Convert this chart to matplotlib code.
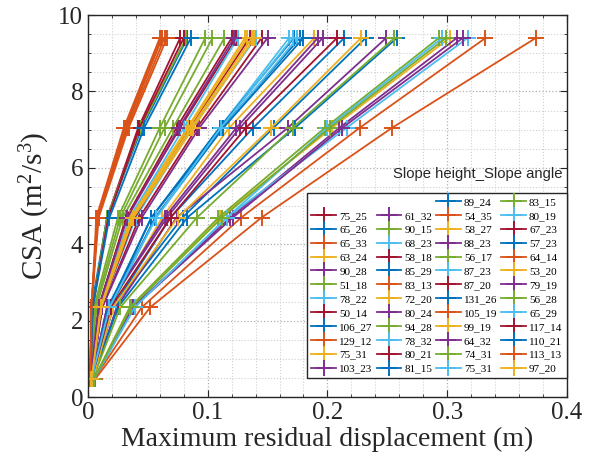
import matplotlib
matplotlib.use("Agg")
import matplotlib.pyplot as plt
from matplotlib.lines import Line2D
from matplotlib.ticker import FuncFormatter, MultipleLocator

plt.rcParams["font.family"] = ["Liberation Serif", "DejaVu Serif"]
plt.rcParams["mathtext.fontset"] = "custom"
plt.rcParams["mathtext.rm"] = "Liberation Serif"
plt.rcParams["mathtext.it"] = "Liberation Serif:italic"

# CSA levels (m^2/s^3)
csa = [0.47, 2.35, 4.7, 7.05, 9.4]

# slope cases, in legend order (height_angle)
labels = [
    "75_25", "65_26", "65_33", "63_24", "90_28", "51_18", "78_22", "50_14", "106_27", "129_12", "75_31", "103_23",
    "61_32", "90_15", "68_23", "58_18", "85_29", "83_13", "72_20", "80_24", "94_28", "78_32", "80_21", "81_15",
    "89_24", "54_35", "58_27", "88_23", "56_17", "87_23", "87_20", "131_26", "105_19", "99_19", "64_32", "74_31", "75_31",
    "83_15", "80_19", "67_23", "57_23", "64_14", "53_20", "79_19", "56_28", "65_29", "117_14", "110_21", "113_13", "97_20",
]

# maximum residual displacement (m) at each CSA level
disp_csa1 = [0.003, 0.004, 0.005, 0.003, 0.004, 0.002, 0.003, 0.002, 0.004, 0.002, 0.005, 0.003,
             0.005, 0.002, 0.003, 0.002, 0.004, 0.002, 0.003, 0.003, 0.004, 0.005, 0.002, 0.002,
             0.003, 0.006, 0.004, 0.003, 0.002, 0.003, 0.003, 0.003, 0.002, 0.003, 0.005, 0.005, 0.005,
             0.002, 0.003, 0.003, 0.003, 0.002, 0.003, 0.002, 0.005, 0.003, 0.002, 0.002, 0.002, 0.003]
disp_csa2 = [0.012, 0.021, 0.045, 0.018, 0.024, 0.006, 0.016, 0.004, 0.025, 0.003, 0.035, 0.016,
             0.037, 0.005, 0.011, 0.009, 0.021, 0.003, 0.010, 0.016, 0.027, 0.039, 0.009, 0.003,
             0.018, 0.052, 0.021, 0.012, 0.007, 0.018, 0.011, 0.019, 0.003, 0.011, 0.038, 0.035, 0.039,
             0.004, 0.010, 0.019, 0.017, 0.003, 0.010, 0.009, 0.036, 0.018, 0.004, 0.004, 0.003, 0.011]
disp_csa3 = [0.043, 0.079, 0.128, 0.062, 0.074, 0.027, 0.057, 0.016, 0.083, 0.007, 0.110, 0.066,
             0.119, 0.025, 0.040, 0.032, 0.069, 0.008, 0.035, 0.064, 0.091, 0.116, 0.032, 0.016,
             0.053, 0.145, 0.075, 0.045, 0.029, 0.057, 0.039, 0.056, 0.009, 0.037, 0.121, 0.109, 0.116,
             0.016, 0.035, 0.069, 0.053, 0.008, 0.036, 0.033, 0.112, 0.057, 0.017, 0.018, 0.008, 0.038]
disp_csa4 = [0.091, 0.155, 0.227, 0.118, 0.167, 0.064, 0.110, 0.042, 0.173, 0.030, 0.204, 0.127,
             0.210, 0.060, 0.087, 0.077, 0.138, 0.032, 0.083, 0.124, 0.171, 0.216, 0.074, 0.045,
             0.112, 0.254, 0.153, 0.093, 0.071, 0.113, 0.085, 0.113, 0.034, 0.086, 0.2125, 0.198, 0.200,
             0.044, 0.080, 0.132, 0.110, 0.033, 0.084, 0.076, 0.202, 0.111, 0.043, 0.047, 0.031, 0.088]
disp_csa5 = [0.145, 0.232, 0.332, 0.189, 0.249, 0.104, 0.168, 0.077, 0.258, 0.060, 0.302, 0.196,
             0.308, 0.098, 0.140, 0.124, 0.214, 0.062, 0.131, 0.192, 0.256, 0.317, 0.120, 0.083,
             0.177, 0.374, 0.228, 0.150, 0.114, 0.175, 0.135, 0.180, 0.066, 0.137, 0.313, 0.293, 0.296,
             0.082, 0.125, 0.208, 0.172, 0.064, 0.133, 0.122, 0.299, 0.171, 0.080, 0.086, 0.061, 0.139]

BLUE, ORANGE, YELLOW, PURPLE = "#0072BD", "#D95319", "#EDB120", "#7E2F8E"
GREEN, LBLUE, DRED = "#77AC30", "#4DBEEE", "#A2142F"
colors = [
    DRED, BLUE, ORANGE, YELLOW, PURPLE, GREEN, LBLUE, DRED, BLUE, ORANGE, YELLOW, PURPLE,
    PURPLE, GREEN, LBLUE, DRED, BLUE, ORANGE, YELLOW, PURPLE, GREEN, LBLUE, DRED, BLUE,
    BLUE, ORANGE, YELLOW, PURPLE, GREEN, LBLUE, DRED, BLUE, ORANGE, YELLOW, PURPLE, GREEN, LBLUE,
    GREEN, LBLUE, DRED, BLUE, ORANGE, YELLOW, PURPLE, GREEN, LBLUE, DRED, BLUE, ORANGE, YELLOW,
]

fig = plt.figure(figsize=(5.98, 4.57), dpi=100)
ax = fig.add_axes([0.147, 0.131, 0.801, 0.836])

handles = []
for i, lab in enumerate(labels):
    xs = [disp_csa1[i], disp_csa2[i], disp_csa3[i], disp_csa4[i], disp_csa5[i]]
    (h,) = ax.plot(xs, csa, color=colors[i], linewidth=1.3, marker="+",
                   markersize=11, markeredgewidth=1.4, label=lab)
    handles.append(h)

ax.set_xlim(0, 0.4)
ax.set_ylim(0, 10)
ax.xaxis.set_major_locator(MultipleLocator(0.1))
ax.xaxis.set_minor_locator(MultipleLocator(0.02))
ax.yaxis.set_major_locator(MultipleLocator(2))
ax.yaxis.set_minor_locator(MultipleLocator(0.5))
ax.xaxis.set_major_formatter(FuncFormatter(lambda v, p: f"{v:g}"))
ax.grid(True, which="major", linestyle=":", color="#b0b0b0", linewidth=0.9)
ax.grid(True, which="minor", linestyle=":", color="#d0d0d0", linewidth=0.8)
ax.set_axisbelow(True)
ax.tick_params(which="both", direction="in", top=True, right=True, labelsize=18, colors="#262626")
ax.tick_params(which="major", length=5, width=0.8)
ax.tick_params(which="minor", length=2.5, width=0.6)
for sp in ax.spines.values():
    sp.set_color("#262626")
    sp.set_linewidth(1.0)

ax.set_xlabel("Maximum residual displacement (m)", fontsize=20, color="#262626", labelpad=2)
ax.set_ylabel(r"CSA ($\mathrm{m^2/s^3}$)", fontsize=21, color="#262626", labelpad=4)

# MATLAB-style legend: first two columns start one row lower
blank = Line2D([], [], linestyle="none")
leg_handles = [blank] + handles[0:12] + [blank] + handles[12:24] + handles[24:37] + handles[37:50]
leg_labels = [""] + labels[0:12] + [""] + labels[12:24] + labels[24:37] + labels[37:50]
leg = ax.legend(leg_handles, leg_labels, ncol=4, loc="lower right", bbox_to_anchor=(1.0, 0.05),
                fontsize=8, handlelength=2.2, handletextpad=0.3, columnspacing=0.35,
                labelspacing=0.37, borderpad=0.4, borderaxespad=0.0, frameon=True,
                fancybox=False, framealpha=1.0, edgecolor="#262626")
leg.get_frame().set_linewidth(1.0)

ax.text(0.814, 0.585, "Slope height_Slope angle", transform=ax.transAxes, ha="center", va="center",
        fontsize=10.7, family=["Liberation Sans", "DejaVu Sans"], color="#262626")

fig.savefig("out.png", dpi=100)
